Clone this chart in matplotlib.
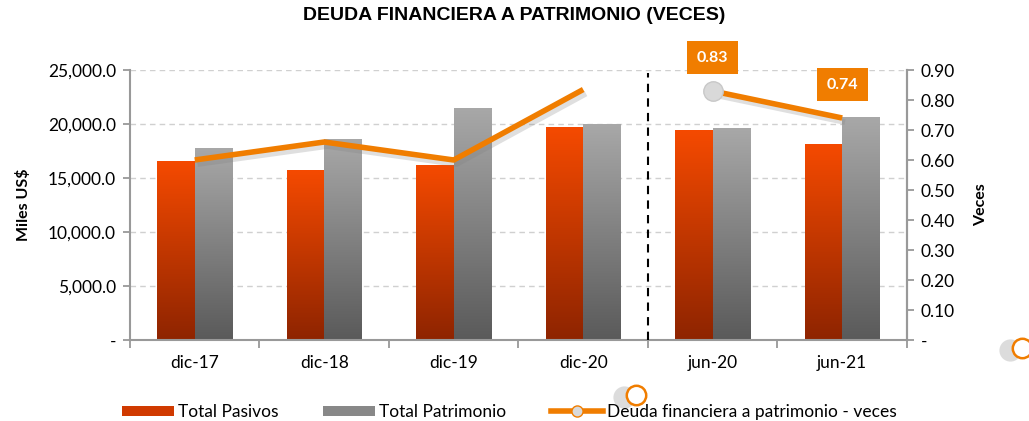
import numpy as np
import matplotlib.pyplot as plt
import matplotlib.patheffects as pe
from matplotlib.colors import LinearSegmentedColormap
from matplotlib.patches import Patch
from matplotlib.lines import Line2D
from matplotlib.ticker import FuncFormatter

# datos
categorias = ['dic-17', 'dic-18', 'dic-19', 'dic-20', 'jun-20', 'jun-21']
pasivos = [16570, 15650, 16200, 19720, 19440, 18060]
patrimonio = [17690, 18610, 21390, 20000, 19630, 20560]
veces_anual = [0.60, 0.66, 0.60, 0.835]
veces_semestre = [0.83, 0.74]

naranja = '#F07D00'
cmap_nar = LinearSegmentedColormap.from_list('nar', ['#8E2400', '#F54A00'])
cmap_gris = LinearSegmentedColormap.from_list('gris', ['#5A5A5A', '#A8A8A8'])

plt.rcParams['font.family'] = ['Lato', 'DejaVu Sans']

fig = plt.figure(figsize=(10.29, 4.21), dpi=100)
ax = fig.add_axes([0.1263, 0.1924, 0.7551, 0.6413])
ax2 = ax.twinx()

x = np.arange(len(categorias))
ancho = 0.29
grad = np.linspace(0, 1, 256).reshape(-1, 1)

def barras_grad(xs, vals, cmap):
    for xi, v in zip(xs, vals):
        ax.imshow(grad, cmap=cmap, origin='lower', aspect='auto',
                  extent=[xi - ancho / 2, xi + ancho / 2, 0, v], zorder=2)

barras_grad(x - ancho / 2, pasivos, cmap_nar)
barras_grad(x + ancho / 2, patrimonio, cmap_gris)

ax.set_xlim(-0.5, len(categorias) - 0.5)
ax.set_ylim(0, 25000)
ax.set_yticks(np.arange(0, 25001, 5000))
ax.yaxis.set_major_formatter(FuncFormatter(lambda v, p: '-' if v == 0 else f'{v:,.1f}'))
ax.yaxis.grid(True, color='#D0D0D0', linestyle=(0, (4, 3)), linewidth=1)
ax.set_axisbelow(True)
ax.set_xticks(x)
ax.set_xticklabels(categorias)
ax.set_xticks(np.arange(-0.5, len(categorias)), minor=True)
ax.tick_params(axis='x', which='major', length=0, pad=11, labelsize=12.5)
ax.tick_params(axis='x', which='minor', length=6, color='#999999', width=1.3, direction='out')
ax.tick_params(axis='y', length=5, color='#999999', width=1.3, labelsize=12.5, pad=5)
ax.set_ylabel('Miles US$', fontsize=11.5, fontweight='bold', labelpad=12)

for s in ['top']:
    ax.spines[s].set_visible(False)
    ax2.spines[s].set_visible(False)
for s in ['left', 'bottom', 'right']:
    ax.spines[s].set_color('#999999')
    ax.spines[s].set_linewidth(1.5)
ax2.spines['right'].set_color('#999999')
ax2.spines['right'].set_linewidth(1.5)
ax2.spines['left'].set_visible(False)
ax2.spines['bottom'].set_visible(False)

ax.axvline(3.5, ymin=0, ymax=0.99, color='black', linestyle=(0, (4, 3)), linewidth=1.5, zorder=3)

# linea de veces
sombra = [pe.SimpleLineShadow(offset=(2, -3), shadow_color='gray', alpha=0.25), pe.Normal()]
ax2.plot(x[:4], veces_anual, color=naranja, linewidth=4, zorder=4, path_effects=sombra,
         solid_capstyle='butt')
ax2.plot(x[4:], veces_semestre, color=naranja, linewidth=4, zorder=4, path_effects=sombra,
         solid_capstyle='butt')
ax2.plot(x[4], veces_semestre[0], marker='o', markersize=14, markerfacecolor='#D9D9D9',
         markeredgecolor='#C8C8C8', zorder=5)

for xi, v in zip(x[4:], veces_semestre):
    ax2.annotate(f'{v:.2f}', (xi, v), xytext=(0, 24), textcoords='offset points',
                 ha='center', va='center', color='white', fontsize=11.5, fontweight='bold',
                 bbox=dict(boxstyle='square,pad=0.6', facecolor=naranja, edgecolor='none'))

ax2.set_ylim(0, 0.9)
ax2.set_yticks(np.arange(0, 0.91, 0.1))
ax2.yaxis.set_major_formatter(FuncFormatter(lambda v, p: '-' if v < 1e-9 else f'{v:.2f}'))
ax2.tick_params(axis='y', length=5, color='#999999', width=1.3, labelsize=12.5, pad=5)
ax2.set_ylabel('Veces', fontsize=11.5, fontweight='bold', labelpad=14)

fig.text(0.5, 0.962, 'DEUDA FINANCIERA A PATRIMONIO (VECES)', ha='center', va='center',
         fontsize=14, fontweight='bold', family='Liberation Sans')

# circulos sueltos del original
for fx, fy in [(636 / 1029, 1 - 395 / 421), (1022 / 1029, 1 - 348 / 421)]:
    fig.add_artist(Line2D([fx - 0.012], [fy - 0.005], transform=fig.transFigure, marker='o',
                          markersize=16, color='#BBBBBB', alpha=0.5, markeredgewidth=0))
    fig.add_artist(Line2D([fx], [fy], transform=fig.transFigure, marker='o', markersize=14,
                          markerfacecolor='white', markeredgecolor=naranja, markeredgewidth=1.8))

handles = [Patch(facecolor='#D03A00'), Patch(facecolor='#888888'),
           Line2D([], [], color=naranja, linewidth=4, marker='o', markersize=8,
                  markerfacecolor='#D9D9D9', markeredgecolor=naranja)]
fig.legend(handles, ['Total Pasivos', 'Total Patrimonio', 'Deuda financiera a patrimonio - veces'],
           loc='lower center', bbox_to_anchor=(0.495, -0.035), ncol=3, frameon=False,
           fontsize=12.5, handlelength=3.0, handleheight=0.55, columnspacing=2.6, handletextpad=0.2)

fig.savefig('out.png', dpi=100)
